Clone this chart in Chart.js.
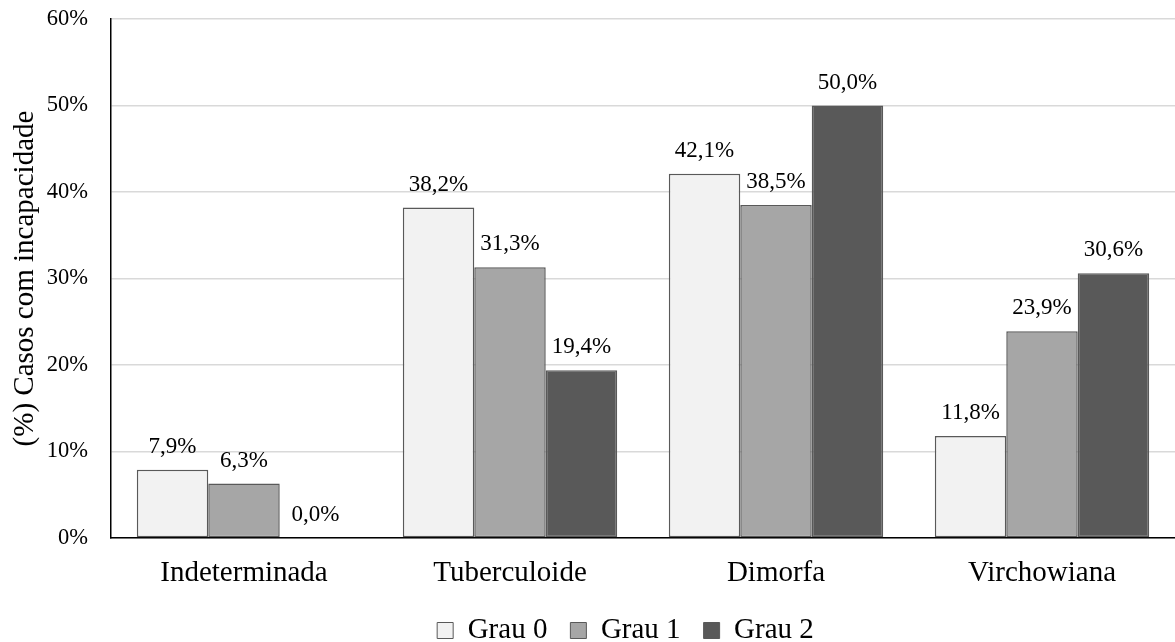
<!DOCTYPE html>
<html>
<head>
<meta charset="utf-8">
<script src="https://cdn.jsdelivr.net/npm/chart.js@4/dist/chart.umd.min.js"></script>
<style>
  html, body { margin: 0; padding: 0; background: #fff; }
  #wrap { width: 1175px; height: 642px; }
</style>
</head>
<body>
<div id="wrap"><canvas id="c" width="1175" height="642"></canvas></div>
<script>
const categories = ['Indeterminada', 'Tuberculoide', 'Dimorfa', 'Virchowiana'];
const grau0 = [7.9, 38.2, 42.1, 11.8];
const grau1 = [6.3, 31.3, 38.5, 23.9];
const grau2 = [0.0, 19.4, 50.0, 30.6];
const seriesNames = ['Grau 0', 'Grau 1', 'Grau 2'];
const seriesColors = ['#f2f2f2', '#a6a6a6', '#595959'];
const yTicks = [0, 10, 20, 30, 40, 50, 60];

const FONT = '"Liberation Serif", "Times New Roman", serif';

// writes each bar's value above it, with a decimal comma
const valueLabels = {
  id: 'valueLabels',
  afterDatasetsDraw(chart) {
    const ctx = chart.ctx;
    ctx.save();
    ctx.font = '23px ' + FONT;
    ctx.fillStyle = '#000';
    ctx.textAlign = 'center';
    ctx.textBaseline = 'middle';
    chart.data.datasets.forEach((ds, i) => {
      chart.getDatasetMeta(i).data.forEach((bar, j) => {
        const txt = ds.data[j].toFixed(1).replace('.', ',') + '%';
        ctx.fillText(txt, bar.x, bar.y - 23);
      });
    });
    ctx.restore();
  }
};

// nudges the legend row a little to the right of centre
const legendShift = {
  id: 'legendShift',
  afterLayout(chart) {
    const lg = chart.legend;
    if (lg) { lg.left += 38; lg.right += 38; }
  }
};

new Chart(document.getElementById('c'), {
  type: 'bar',
  data: {
    labels: categories,
    datasets: [grau0, grau1, grau2].map((d, i) => ({
      label: seriesNames[i],
      data: d,
      backgroundColor: seriesColors[i],
      borderColor: '#595959',
      borderWidth: 1.5,
      borderSkipped: false,
      categoryPercentage: 0.806,
      barPercentage: 1.0
    }))
  },
  options: {
    responsive: false,
    animation: false,
    devicePixelRatio: 1,
    layout: { padding: { top: 19, right: 0, left: 0, bottom: -13 } },
    plugins: {
      tooltip: { enabled: false },
      legend: {
        position: 'bottom',
        labels: {
          font: { family: FONT, size: 29 },
          color: '#000',
          boxWidth: 16,
          boxHeight: 16,
          padding: 23,
          generateLabels(chart) {
            return chart.data.datasets.map((ds, i) => ({
              text: ds.label,
              fillStyle: ds.backgroundColor,
              strokeStyle: '#595959',
              lineWidth: 1,
              datasetIndex: i,
              hidden: false
            }));
          }
        }
      }
    },
    scales: {
      x: {
        grid: { display: false, drawTicks: false },
        border: { color: '#000', width: 1.5 },
        ticks: { font: { family: FONT, size: 29 }, color: '#000', padding: 18 },
        afterFit(scale) { scale.height = 55; }
      },
      y: {
        min: 0,
        max: 60,
        afterBuildTicks(scale) { scale.ticks = yTicks.map(v => ({ value: v })); },
        grid: { color: '#d9d9d9', lineWidth: 1.5, drawTicks: false },
        border: { color: '#000', width: 1.5 },
        ticks: {
          font: { family: FONT, size: 22.5 },
          color: '#000',
          padding: 23,
          callback: v => v + '%'
        },
        title: {
          display: true,
          text: '(%) Casos com incapacidade',
          font: { family: FONT, size: 29 },
          color: '#000',
          padding: { top: 8, bottom: 0 }
        },
        afterFit(scale) {
          scale.width = 111;
          scale.paddingTop = 0;
          scale.paddingBottom = 0;
        }
      }
    }
  },
  plugins: [valueLabels, legendShift]
});
</script>
</body>
</html>
